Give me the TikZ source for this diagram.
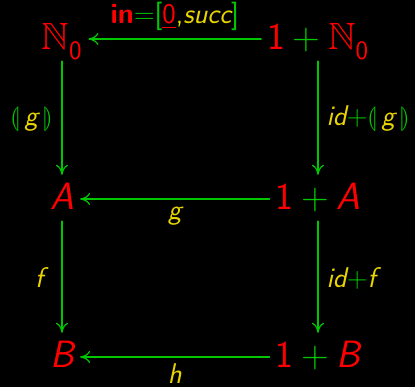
\documentclass[tikz,border=0pt]{standalone}
\usepackage{amsmath,amssymb}
\usepackage{stmaryrd}
\usepackage{tikz}
\usetikzlibrary{arrows.meta}
\definecolor{catred}{RGB}{255,0,0}
\definecolor{catgreen}{RGB}{0,200,0}
\definecolor{catyellow}{RGB}{232,212,0}
\newcommand{\rd}[1]{\textcolor{catred}{#1}}
\newcommand{\gr}[1]{\textcolor{catgreen}{#1}}
\newcommand{\yl}[1]{\textcolor{catyellow}{#1}}
\newcommand{\plusop}{\hspace{.2em}\gr{+}\hspace{.2em}}
\newcommand{\fold}[1]{\gr{$\llparenthesis$}\hspace{.15em}#1\hspace{.2em}\gr{$\rrparenthesis$}}
\tikzset{
  every picture/.style={line join=round, line cap=round, >={To[length=10pt,width=12pt]}},
  obj/.style={anchor=base, inner sep=4pt, text height=26pt, text depth=4pt,
    font=\fontsize{38}{40}\selectfont\sffamily},
  lbl/.style={inner sep=8pt, font=\fontsize{28.5}{32}\selectfont\sffamily},
  mor/.style={->, catgreen, line width=1.2pt},
}

\begin{document}
\begin{tikzpicture}[x=1pt,y=1pt]
\fill[black](0,0) rectangle (415,387);
\useasboundingbox (0,0) rectangle (415,387);
% objects
\node[obj] (nat) at (62,337) {\rd{$\mathbb{N}_{\text{0}}$}};
\node[obj] (onenat) at (318,337) {\rd{1}\plusop\rd{$\mathbb{N}_{\text{0}}$}};
\node[obj] (A) at (62,177) {\rd{\itshape A}};
\node[obj] (oneA) at (318,177) {\rd{1}\plusop\rd{\itshape A}};
\node[obj] (B) at (62,19) {\rd{\itshape B}};
\node[obj] (oneB) at (318,19) {\rd{1}\plusop\rd{\itshape B}};
% arrows
\draw[mor, shorten <=2pt, shorten >=2pt](onenat)--(nat)
  node[lbl, midway, above]{\rd{\bfseries in}\gr{=[}\rd{\underline{0}}\yl{,\itshape succ}\gr{]}};
\draw[mor, shorten <=2pt, shorten >=2pt](oneA)--(A)
  node[lbl, inner sep=0pt, midway, below=7pt]{\yl{\itshape g}};
\draw[mor, shorten <=2pt, shorten >=2pt](oneB)--(B)
  node[lbl, inner sep=0pt, midway, below=6pt]{\yl{\itshape h}};
\draw[mor, shorten <=3pt, shorten >=5pt](nat)--(A)
  node[lbl, midway, left]{\fold{\yl{\itshape g}}};
\draw[mor, shorten <=3pt, shorten >=5pt](A)--(B)
  node[lbl, midway, left=10pt]{\yl{\itshape f}};
\draw[mor, shorten <=3pt, shorten >=5pt](onenat)--(oneA)
  node[lbl, midway, right]{\yl{\itshape id}\gr{+}\fold{\yl{\itshape g}}};
\draw[mor, shorten <=3pt, shorten >=5pt](oneA)--(oneB)
  node[lbl, midway, right]{\yl{\itshape id}\gr{+}\yl{\itshape f}};
\end{tikzpicture}
\end{document}
